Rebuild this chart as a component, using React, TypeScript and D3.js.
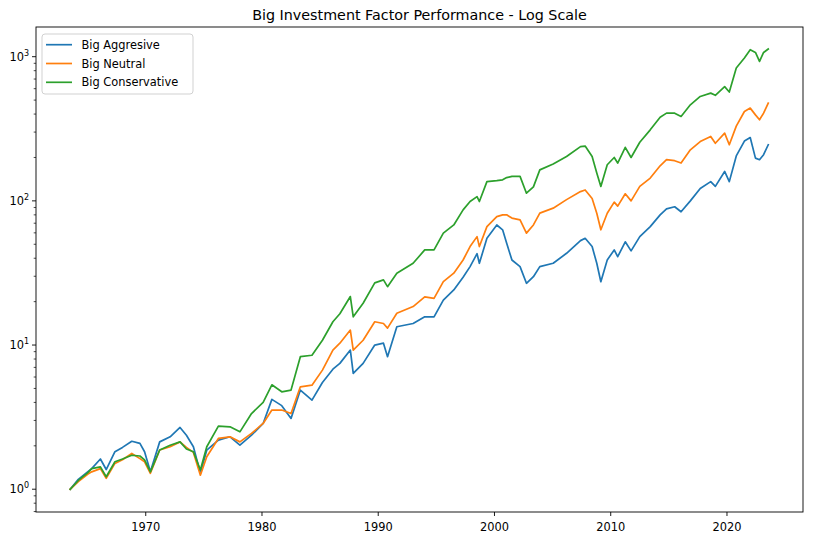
import React from 'react';
import * as d3 from 'd3';

const title = 'Big Investment Factor Performance - Log Scale';
const seriesNames = ['Big Aggresive', 'Big Neutral', 'Big Conservative'];
const seriesColors = ['#1f77b4', '#ff7f0e', '#2ca02c'];
const xTicks = [1970, 1980, 1990, 2000, 2010, 2020];
const yMajorExponents = [0, 1, 2, 3];

const dates = [
  1963.5, 1964.2, 1965.0, 1965.35, 1966.1, 1966.6, 1967.35, 1968.0, 1968.8, 1969.5,
  1969.9, 1970.4, 1971.2, 1972.1, 1972.95, 1973.5, 1974.1, 1974.7, 1975.25, 1976.25,
  1977.25, 1978.1, 1979.1, 1980.1, 1980.85, 1981.7, 1982.5, 1983.3, 1984.3, 1985.2,
  1986.1, 1986.7, 1987.6, 1987.85, 1988.7, 1989.7, 1990.45, 1990.8, 1991.6, 1993.0,
  1994.0, 1994.8, 1995.6, 1996.5, 1997.3, 1997.9, 1998.5, 1998.7, 1999.35, 2000.2,
  2000.7, 2001.05, 2001.5, 2002.2, 2002.75, 2003.35, 2003.9, 2005.05, 2006.2, 2007.4,
  2007.8, 2008.4, 2008.8, 2009.15, 2009.7, 2010.3, 2010.6, 2011.25, 2011.75, 2012.5,
  2013.4, 2014.25, 2014.8, 2015.5, 2016.05, 2016.85, 2017.7, 2018.6, 2019.0, 2019.8,
  2020.2, 2020.8, 2021.5, 2022.0, 2022.45, 2022.8, 2023.15, 2023.55,
];

const aggressive = [
  1.0, 1.17, 1.32, 1.39, 1.62, 1.37, 1.82, 1.95, 2.15, 2.08,
  1.82, 1.32, 2.13, 2.31, 2.68, 2.37, 1.97, 1.29, 1.87, 2.19,
  2.31, 2.02, 2.37, 2.86, 4.2, 3.8, 3.1, 4.87, 4.15, 5.5,
  6.8, 7.46, 9.23, 6.36, 7.46, 10.0, 10.3, 8.3, 13.4, 14.1,
  15.7, 15.7, 20.5, 24.1, 29.5, 35.0, 43, 36.9, 55, 68,
  63, 50.8, 38.9, 35, 26.8, 29.8, 35, 36.9, 43.3, 53,
  55, 48.2, 36.9, 27.5, 38.9, 45.7, 41, 52, 45, 56.5,
  66.3, 80, 88, 91, 84, 100, 122, 136, 126, 160,
  136, 205, 260, 275, 198, 193, 209, 245,
];

const neutral = [
  1.0, 1.13, 1.27, 1.32, 1.39, 1.19, 1.51, 1.6, 1.77, 1.63,
  1.55, 1.29, 1.87, 1.97, 2.13, 1.95, 1.8, 1.25, 1.68, 2.25,
  2.31, 2.13, 2.44, 2.86, 3.54, 3.54, 3.35, 5.13, 5.27, 6.7,
  9.23, 10.3, 12.7, 9.23, 10.8, 14.5, 14.1, 13.1, 16.6, 18.5,
  21.6, 21.1, 27.5, 31.5, 38.9, 48.2, 56.5, 48.2, 66.3, 77.8,
  80, 80, 76, 73.8, 59.7, 68.1, 82.2, 89, 102, 116,
  119, 104, 82, 63, 82, 98, 92, 112, 100, 126,
  144, 175, 193, 190, 183, 226, 258, 280, 251, 295,
  245, 330, 417, 440, 395, 365, 406, 477,
];

const conservative = [
  1.0, 1.15, 1.3, 1.39, 1.43, 1.22, 1.55, 1.62, 1.72, 1.7,
  1.6, 1.32, 1.87, 2.02, 2.13, 1.9, 1.82, 1.36, 1.97, 2.74,
  2.71, 2.5, 3.35, 4.0, 5.3, 4.74, 4.87, 8.3, 8.5, 10.8,
  14.5, 16.5, 21.7, 15.7, 19.5, 27, 28.3, 25.4, 31.5, 36.9,
  45.7, 45.7, 59.7, 68.1, 86.6, 99, 107, 99, 136, 138,
  140, 145, 148, 148, 113, 125, 164, 180, 203, 238,
  240, 203, 156, 126, 178, 200, 183, 235, 200, 255,
  311, 380, 406, 406, 385, 464, 530, 559, 540, 620,
  569, 835, 980, 1119, 1070, 927, 1070, 1130,
];

const seriesValues = [aggressive, neutral, conservative];

export default function App() {
  const W = 814;
  const H = 537;
  const left = 36, right = 803, top = 27, bottom = 512;
  const font = 'DejaVu Sans, sans-serif';
  const tickFont = 11.4;

  const x = d3.scaleLinear().domain([1960.56, 2026.54]).range([left, right]);
  const y = d3.scaleLog().domain([0.695, 1607]).range([bottom, top]);

  const line = d3
    .line<[number, number]>()
    .x((d) => x(d[0]))
    .y((d) => y(d[1]));

  const minorTicks: number[] = [];
  for (let k = -1; k <= 3; k++) {
    for (let m = 2; m <= 9; m++) {
      const v = m * Math.pow(10, k);
      if (v >= 0.695 && v <= 1607) minorTicks.push(v);
    }
  }

  return (
    <svg
      width={W}
      height={H}
      viewBox={`0 0 ${W} ${H}`}
      style={{ position: 'fixed', left: 0, top: 0, background: '#fff' }}
      fontFamily={font}
    >
      <rect x={0} y={0} width={W} height={H} fill="#fff" />
      <text x={(left + right) / 2} y={19.5} textAnchor="middle" fontSize={14.3} fill="#000">
        {title}
      </text>

      <defs>
        <clipPath id="plotclip">
          <rect x={left} y={top} width={right - left} height={bottom - top} />
        </clipPath>
      </defs>

      <g clipPath="url(#plotclip)">
        {seriesValues.map((vals, i) => (
          <path
            key={seriesNames[i]}
            d={line(dates.map((d, j) => [d, vals[j]] as [number, number])) || ''}
            fill="none"
            stroke={seriesColors[i]}
            strokeWidth={1.7}
            strokeLinejoin="round"
            strokeLinecap="square"
          />
        ))}
      </g>

      <rect x={left} y={top} width={right - left} height={bottom - top} fill="none" stroke="#000" strokeWidth={0.9} />

      {xTicks.map((t) => (
        <g key={t}>
          <line x1={x(t)} x2={x(t)} y1={bottom} y2={bottom + 4} stroke="#000" strokeWidth={0.9} />
          <text x={x(t)} y={bottom + 18.5} textAnchor="middle" fontSize={tickFont} fill="#000">
            {t}
          </text>
        </g>
      ))}

      {minorTicks.map((v) => (
        <line key={v} x1={left - 2.3} x2={left} y1={y(v)} y2={y(v)} stroke="#000" strokeWidth={0.7} />
      ))}

      {yMajorExponents.map((e) => {
        const yy = y(Math.pow(10, e));
        return (
          <g key={e}>
            <line x1={left - 4} x2={left} y1={yy} y2={yy} stroke="#000" strokeWidth={0.9} />
            <text x={left - 7} y={yy + 4.2} textAnchor="end" fontSize={tickFont} fill="#000">
              <tspan>10</tspan>
              <tspan fontSize={8} dy={-5}>{e}</tspan>
            </text>
          </g>
        );
      })}

      <g>
        <rect x={42} y={34} width={151} height={60} rx={3} ry={3} fill="#fff" fillOpacity={0.8} stroke="#cccccc" strokeWidth={0.9} />
        {seriesNames.map((n, i) => {
          const yy = 44.7 + i * 18.8;
          return (
            <g key={n}>
              <line x1={46} x2={72} y1={yy} y2={yy} stroke={seriesColors[i]} strokeWidth={1.7} />
              <text x={81.5} y={yy + 4.1} fontSize={tickFont} fill="#000">
                {n}
              </text>
            </g>
          );
        })}
      </g>
    </svg>
  );
}
